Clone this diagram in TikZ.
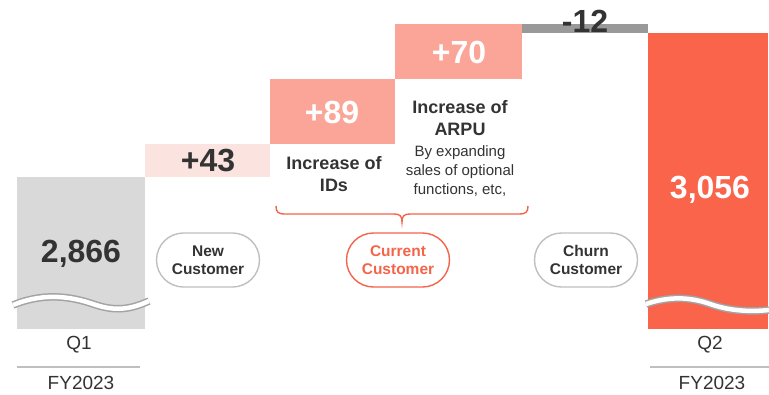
\documentclass[tikz,border=0pt]{standalone}
\usepackage{fontspec}
\setmainfont{Liberation Sans}
\definecolor{txt}{HTML}{333333}
\definecolor{qone}{HTML}{D9D9D9}
\definecolor{lightpink}{HTML}{FBE3E0}
\definecolor{salmon}{HTML}{FAA597}
\definecolor{redorange}{HTML}{F9644B}
\definecolor{churngray}{HTML}{999999}
\definecolor{pillgray}{HTML}{BFBFBF}
\definecolor{accent}{HTML}{F4644A}
\begin{document}
\begin{tikzpicture}[x=1pt,y=-1pt,
  bignum/.style={font=\fontsize{32}{35}\selectfont\bfseries},
  lbl/.style={font=\fontsize{18}{22}\selectfont\bfseries, text=txt, align=center},
  desc/.style={font=\fontsize{15}{19}\selectfont, text=txt, align=center},
  pill/.style={draw=pillgray, line width=1.4pt, rounded corners=27pt, minimum width=103pt, minimum height=54pt,
     font=\fontsize{15.5}{18.5}\selectfont\bfseries, text=txt, align=center},
  axislbl/.style={font=\fontsize{19}{22}\selectfont, text=txt},
  axisline/.style={draw=pillgray, line width=2pt},
  wavebg/.style={draw=churngray!90, line width=7.5pt},
  wavefg/.style={draw=white, line width=4.5pt}]
\useasboundingbox (0,0) rectangle (769,394);
% bars
\fill[qone] (17,177) rectangle (145,329);
\fill[lightpink] (145,144) rectangle (270,177);
\fill[salmon] (270,79) rectangle (395,144);
\fill[salmon] (395,24) rectangle (522,79);
\fill[churngray] (522,24) rectangle (648,33);
\fill[redorange] (648,33) rectangle (768,329);
% waves
\draw[wavebg] (13,305) .. controls (40,294) and (65,295) .. (90,303) .. controls (110,310) and (125,312) .. (149,301);
\draw[wavefg] (13,305) .. controls (40,294) and (65,295) .. (90,303) .. controls (110,310) and (125,312) .. (149,301);
\draw[wavebg] (646,304) .. controls (670,296) and (690,297) .. (710,304) .. controls (730,311) and (750,312) .. (769,310);
\draw[wavefg] (646,304) .. controls (670,296) and (690,297) .. (710,304) .. controls (730,311) and (750,312) .. (769,310);
% values
\node[bignum, text=txt] (v1) at (81,254) {2,866};
\node[bignum, text=txt] (v43) at (208,161) {+43};
\node[bignum, text=white] (v89) at (332,112) {+89};
\node[bignum, text=white] (v70) at (459,52) {+70};
\node[bignum, text=txt] (v12) at (585,21) {-12};
\node[bignum, text=white] (v2) at (710,190) {3,056};
% labels
\node[lbl] (ids) at (334,174) {Increase of\\IDs};
\node[lbl] (arpu) at (460,118) {Increase of\\ARPU};
\node[desc] (arpud) at (460,171) {By expanding\\sales of optional\\functions, etc,};
% brace
\draw[accent, line width=1.4pt] (276,206) .. controls (276,212) and (278,214) .. (285,214) -- (394,214)
  .. controls (400,214) and (402,216) .. (402,222)
  .. controls (402,216) and (404,214) .. (410,214) -- (519,214)
  .. controls (526,214) and (528,212) .. (528,206);
\coordinate (bracetip) at (402,222);
% pills
\node[pill] (new) at (208,260) {New\\Customer};
\node[pill, draw=accent, text=accent] (cur) at (398,260) {Current\\Customer};
\node[pill] (churn) at (586,260) {Churn\\Customer};
% axis labels
\node[axislbl] (q1) at (79,345) {Q1};
\node[axislbl] (fy1) at (81,383) {FY2023};
\draw[axisline] (17,367) -- (140,367);
\node[axislbl] (q2) at (710,345) {Q2};
\node[axislbl] (fy2) at (712,383) {FY2023};
\draw[axisline] (650,367) -- (769,367);
\end{tikzpicture}
\end{document}
